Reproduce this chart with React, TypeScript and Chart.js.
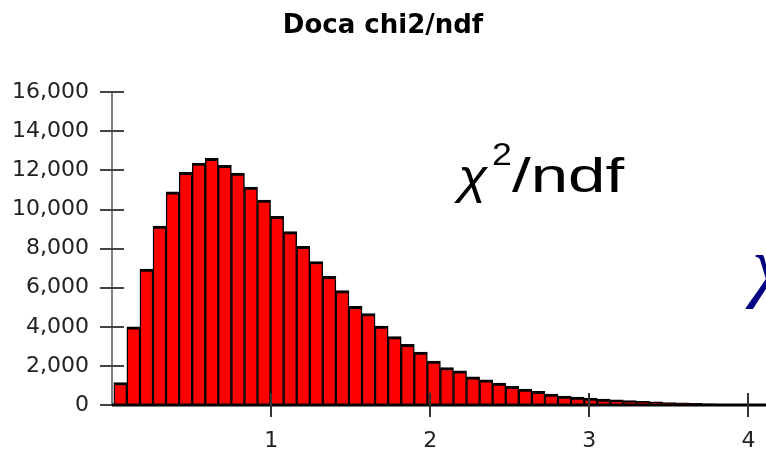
import { useEffect, useRef } from 'react';
import { Chart, registerables } from 'chart.js';

Chart.register(...registerables);

// Histogram bin centers (χ²/ndf)
const binCenters = [
  0.0524, 0.1345, 0.2166, 0.2987, 0.3808, 0.4629, 0.545, 0.6271, 0.7092, 0.7913,
  0.8734, 0.9555, 1.0376, 1.1197, 1.2018, 1.2839, 1.366, 1.4481, 1.5302, 1.6123,
  1.6944, 1.7765, 1.8586, 1.9407, 2.0228, 2.1049, 2.187, 2.2691, 2.3512, 2.4333,
  2.5154, 2.5975, 2.6796, 2.7617, 2.8438, 2.9259, 3.008, 3.0901, 3.1722, 3.2543,
  3.3364, 3.4185, 3.5006, 3.5827, 3.6648, 3.7469, 3.829,
];

// Entries per bin
const counts = [
  1150, 4000, 6950, 9150, 10900, 11900, 12370, 12620, 12260, 11860,
  11150, 10480, 9650, 8870, 8110, 7340, 6580, 5850, 5050, 4680,
  4040, 3500, 3100, 2710, 2250, 1920, 1750, 1440, 1290, 1120,
  950, 815, 700, 560, 450, 400, 350, 300, 270, 230,
  190, 160, 130, 110, 90, 60, 40,
];

const xTickValues = [1, 2, 3, 4];
const yTickValues = [0, 2000, 4000, 6000, 8000, 10000, 12000, 14000, 16000];
const titleText = 'Doca chi2/ndf';
const xMin = 0;
const xMax = 4.11;

const overlayPlugin = {
  id: 'overlay',
  afterDatasetsDraw(chart: any) {
    const { ctx, chartArea } = chart;
    const xs = chart.scales.x;
    const ys = chart.scales.y;
    const y0 = ys.getPixelForValue(0);
    const yTop = ys.getPixelForValue(yTickValues[yTickValues.length - 1]);
    const left = chartArea.left;
    ctx.save();
    // y axis line
    ctx.strokeStyle = '#808080';
    ctx.lineWidth = 2;
    ctx.beginPath();
    ctx.moveTo(left, yTop);
    ctx.lineTo(left, y0);
    ctx.stroke();
    // y ticks (crossing)
    ctx.strokeStyle = '#444';
    ctx.lineWidth = 2;
    yTickValues.forEach((v) => {
      const py = Math.round(ys.getPixelForValue(v));
      ctx.beginPath();
      ctx.moveTo(left - 12, py);
      ctx.lineTo(left + 12, py);
      ctx.stroke();
    });
    // x axis line
    ctx.strokeStyle = '#000';
    ctx.lineWidth = 3;
    ctx.beginPath();
    ctx.moveTo(left, y0);
    ctx.lineTo(chartArea.right, y0);
    ctx.stroke();
    // x ticks (crossing)
    ctx.strokeStyle = '#333';
    ctx.lineWidth = 2;
    xTickValues.forEach((v) => {
      const px = Math.round(xs.getPixelForValue(v));
      ctx.beginPath();
      ctx.moveTo(px, y0 - 12);
      ctx.lineTo(px, y0 + 12);
      ctx.stroke();
    });
    ctx.restore();
  },
  afterDraw(chart: any) {
    const { ctx } = chart;
    const piece = (text: string, font: string, x: number, y: number, sx: number) => {
      ctx.save();
      ctx.translate(x, y);
      ctx.scale(sx, 1);
      ctx.font = font;
      ctx.fillText(text, 0, 0);
      ctx.restore();
    };
    ctx.save();
    ctx.fillStyle = '#000';
    ctx.textBaseline = 'alphabetic';
    ctx.textAlign = 'left';
    piece('\u03C7', 'italic 48px "Liberation Sans"', 458, 193, 1.12);
    piece('2', '31px "Liberation Sans"', 492, 165, 1.15);
    piece('/ndf', '48px "Liberation Sans"', 512, 192, 1.4);
    ctx.fillStyle = '#000080';
    piece('\u03C7', 'italic 80px "Liberation Serif"', 752, 292, 1);
    ctx.restore();
  },
};

export default function App() {
  const ref = useRef<HTMLCanvasElement | null>(null);
  useEffect(() => {
    document.body.style.margin = '0';
    const canvas = ref.current;
    if (!canvas) return;
    const chart = new Chart(canvas, {
      type: 'bar',
      data: {
        datasets: [
          {
            data: binCenters.map((x, i) => ({ x, y: counts[i] })),
            backgroundColor: '#ff0000',
            borderColor: '#000000',
            borderWidth: { top: 3, left: 1.5, right: 1.5, bottom: 0 },
            borderSkipped: 'start',
            barPercentage: 1,
            categoryPercentage: 1,
          },
        ],
      },
      options: {
        animation: false,
        responsive: false,
        layout: { padding: 0, autoPadding: false },
        plugins: {
          legend: { display: false },
          tooltip: { enabled: false },
          title: {
            display: true,
            text: titleText,
            color: '#000',
            font: { family: 'DejaVu Sans', size: 26, weight: 'bold' },
            padding: { top: 11, bottom: 50 },
          },
        },
        scales: {
          x: {
            type: 'linear',
            offset: false,
            min: xMin,
            max: xMax,
            grid: { display: false, drawTicks: false, offset: false },
            border: { display: false },
            afterBuildTicks: (s: any) => {
              s.ticks = xTickValues.map((v) => ({ value: v }));
            },
            afterFit: (s: any) => {
              s.height = 48;
              s.paddingLeft = 0;
              s.paddingRight = 0;
            },
            ticks: {
              autoSkip: false,
              maxRotation: 0,
              padding: 23,
              color: '#222',
              font: { family: 'DejaVu Sans', size: 22 },
              callback: (v: any) => String(v),
            },
          },
          y: {
            min: 0,
            max: 16000,
            grid: { display: false, drawTicks: false },
            border: { display: false },
            afterBuildTicks: (s: any) => {
              s.ticks = yTickValues.map((v) => ({ value: v }));
            },
            afterFit: (s: any) => {
              s.width = 112;
              s.paddingTop = 0;
              s.paddingBottom = 0;
            },
            ticks: {
              padding: 23,
              color: '#222',
              font: { family: 'DejaVu Sans', size: 22 },
              callback: (v: any) => Number(v).toLocaleString('en-US'),
            },
          },
        },
      },
      plugins: [overlayPlugin],
    } as any);
    return () => chart.destroy();
  }, []);
  return (
    <div style={{ position: 'fixed', left: 0, top: 0, width: 766, height: 453 }}>
      <canvas ref={ref} width={766} height={453} style={{ display: 'block' }} />
    </div>
  );
}
